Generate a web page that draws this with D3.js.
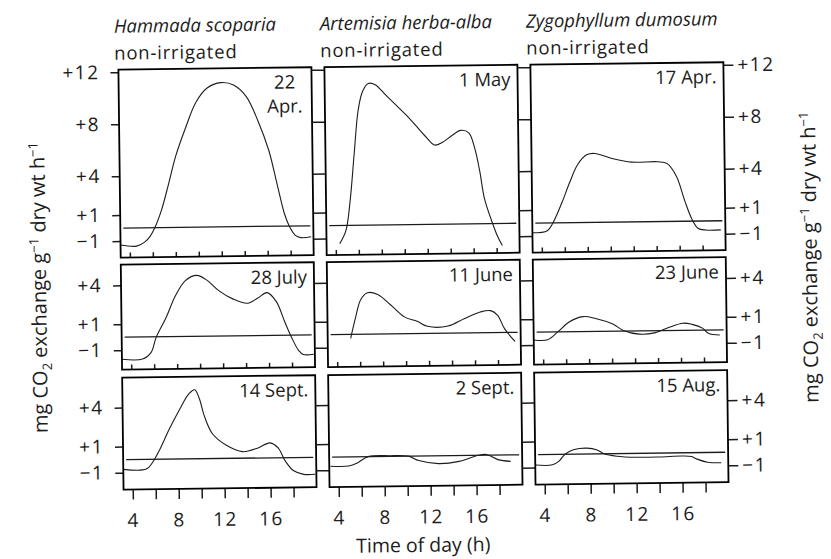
<!DOCTYPE html>
<html>
<head>
<meta charset="utf-8">
<script src="https://cdn.jsdelivr.net/npm/d3@7/dist/d3.min.js"></script>
<style>
  body { margin: 0; background: #fff; }
  svg { display: block; font-family: "Open Sans", Lato, sans-serif; }
</style>
</head>
<body>
<div class="canvas"></div>
<script>
// column headings
const species = ['Hammada scoparia', 'Artemisia herba-alba', 'Zygophyllum dumosum'];
const treatment = 'non-irrigated';

// date labels, one row of panels per line
const dates = [
  [['22', 'Apr.'], ['1 May'], ['17 Apr.']],
  [['28 July'], ['11 June'], ['23 June']],
  [['14 Sept.'], ['2 Sept.'], ['15 Aug.']]
];

// y ticks per row, x ticks shared
const rowTicks = [[12, 8, 4, 1, -1], [4, 1, -1], [4, 1, -1]];
const hourTicks = [4, 6, 8, 10, 12, 14, 16, 18];
const hourLabels = [4, 8, 12, 16];

// CO2 exchange curves, [hour, mg CO2 g-1 dry wt h-1]
const hammada22Apr = [[3.2,-1.3],[4.6,-1.4],[5.3,-1.1],[5.75,-0.7],[6.2,0],[6.8,1.35],[7.4,3.2],[8.1,5.5],
  [9.0,7.7],[9.9,9.6],[10.9,10.7],[12.1,11.1],[13.2,10.9],[14.3,10.0],[15.3,8.1],[16.2,5.85],[16.9,3.2],
  [17.5,0.95],[17.9,0],[18.4,-0.7],[18.9,-0.9],[19.8,-0.85]];
const artemisia1May = [[4.35,-1.4],[4.9,-0.4],[5.3,1.9],[5.7,5.5],[6.1,8.9],[6.5,10.3],[7.0,10.9],[7.6,10.8],
  [8.5,10.0],[9.4,9.2],[10.3,8.4],[11.1,7.6],[12.0,6.7],[12.7,6.1],[13.4,6.3],[14.2,6.8],[15.0,7.2],[15.7,7.0],
  [16.2,5.8],[16.6,4.1],[17.0,1.9],[17.6,0.2],[18.1,-1.0],[18.5,-1.7]];
const zygo17Apr = [[3.2,-0.75],[4.5,-0.6],[5.0,0.0],[5.8,1.55],[6.5,3.1],[7.2,4.45],[8.0,5.2],[8.7,5.3],
  [10.2,4.9],[11.9,4.6],[14.2,4.6],[15.0,4.45],[15.8,3.45],[16.5,1.55],[17.1,0.15],[17.6,-0.55],[18.3,-0.7],[19.6,-0.7]];
const hammada28July = [[3.2,-1.7],[5.0,-1.7],[5.75,-1.2],[6.2,-0.05],[7.1,1.5],[7.9,3.1],[8.8,4.3],[9.8,4.7],
  [10.7,4.3],[11.7,3.5],[12.9,2.85],[14.2,2.5],[15.1,2.9],[15.9,3.3],[16.7,2.6],[17.4,1.05],[18.0,-0.2],
  [18.6,-1.2],[19.0,-1.5],[19.9,-1.5]];
const artemisia11June = [[5.2,-0.3],[5.65,1.3],[6.1,2.65],[6.7,3.2],[7.6,3.05],[8.7,2.25],[9.9,1.3],[11.0,0.95],
  [11.9,0.55],[13.7,0.55],[15.1,1.1],[16.5,1.6],[17.4,1.7],[18.0,1.35],[18.6,0.3],[19.5,-0.7]];
const zygo23June = [[3.2,-0.6],[4.4,-0.6],[5.3,0.0],[6.3,0.75],[7.5,1.15],[8.6,1.0],[10.1,0.55],[11.0,0.05],
  [12.4,-0.25],[13.8,-0.15],[15.0,0.25],[16.2,0.55],[17.0,0.45],[17.9,0.15],[18.4,-0.25],[19.4,-0.4]];
const hammada14Sept = [[3.2,-0.75],[5.2,-0.75],[5.75,-0.25],[6.4,0.75],[7.25,2.3],[8.1,3.7],[9.0,5.0],[9.5,5.3],
  [9.9,4.6],[10.3,3.3],[11.0,1.9],[12.2,1.0],[13.6,0.5],[14.9,0.75],[16.0,1.15],[16.7,0.75],[17.3,-0.25],
  [18.0,-1.0],[18.9,-1.3],[19.9,-1.3]];
const artemisia2Sept = [[3.3,-0.7],[4.9,-0.7],[5.6,-0.5],[6.6,0.0],[8.5,0.05],[10.1,0.0],[11.0,-0.35],[12.7,-0.6],
  [14.5,-0.45],[16.2,0.0],[16.9,0.05],[17.9,-0.35],[19.0,-0.5]];
const zygo15Aug = [[3.2,-0.8],[4.7,-0.8],[5.3,-0.5],[5.8,0.0],[6.6,0.35],[7.7,0.45],[8.6,0.3],[9.2,0.0],[10.3,-0.2],
  [12,-0.3],[14,-0.3],[16,-0.25],[16.8,-0.3],[17.3,-0.5],[18.2,-0.75],[19.4,-0.8]];

const curves = [
  [hammada22Apr, artemisia1May, zygo17Apr],
  [hammada28July, artemisia11June, zygo23June],
  [hammada14Sept, artemisia2Sept, zygo15Aug]
];

//1. dimensions
const width = 831, height = 559;
const colX = [121, 327, 533], colW = 193;
const rowY = [66, 261, 374], rowH = [188, 105, 112];
const rowDomain = [[-2.27, 12.2], [-2.5, 5.6], [-2.3, 6.3]];
const ink = '#1c1c1c';

const svg = d3.select('.canvas').append('svg')
    .attr('width', width)
    .attr('height', height);

// the scanned page sits a little askew
const page = svg.append('g').attr('transform', 'rotate(-0.7, 415, 280)');

const x = d3.scaleLinear().domain([3.2, 20.0]).range([0, colW]);
const signed = v => v > 0 ? '+' + v : '\u2212' + Math.abs(v);

//2. panels
rowY.forEach((top, r) => {
    const y = d3.scaleLinear().domain(rowDomain[r]).range([rowH[r], 0]);
    const line = d3.line()
        .x(d => x(d[0]))
        .y(d => y(d[1]))
        .curve(d3.curveCatmullRom.alpha(0.5));

    colX.forEach((left, c) => {
        const g = page.append('g').attr('transform', `translate(${left},${top})`);

        // y ticks: labelled on the outer columns, plain ticks across the gaps
        const yAxis = c === 0
            ? d3.axisLeft(y).tickValues(rowTicks[r]).tickFormat(signed).tickSize(8).tickPadding(11)
            : d3.axisLeft(y).tickValues(rowTicks[r]).tickFormat('').tickSize(13);
        g.append('g').call(yAxis);
        if (c === 2) {
            g.append('g').attr('transform', `translate(${colW},0)`)
                .call(d3.axisRight(y).tickValues(rowTicks[r]).tickFormat(signed).tickSize(10).tickPadding(4));
        }

        // x ticks: outward with labels on the last row, inward otherwise
        const xAxis = r === 2
            ? d3.axisBottom(x).tickValues(hourTicks).tickSize(10).tickPadding(14)
                .tickFormat(d => hourLabels.includes(d) ? d : '')
            : d3.axisBottom(x).tickValues(hourTicks).tickSize(-5).tickFormat('');
        g.append('g').attr('transform', `translate(0,${rowH[r]})`).call(xAxis);

        // zero line
        g.append('line')
            .attr('x1', 3).attr('x2', colW - 3)
            .attr('y1', y(0)).attr('y2', y(0))
            .attr('stroke', ink).attr('stroke-width', 1.3);

        g.append('path')
            .datum(curves[r][c])
            .attr('d', line)
            .attr('fill', 'none')
            .attr('stroke', ink)
            .attr('stroke-width', 1.1);

        g.append('rect')
            .attr('width', colW).attr('height', rowH[r])
            .attr('fill', 'none')
            .attr('stroke', '#000').attr('stroke-width', 1.8);

        // date label, top right
        const lab = g.append('text')
            .attr('font-size', 18.5).attr('fill', ink)
            .attr('text-anchor', dates[r][c].length > 1 ? 'middle' : 'end');
        const lx = dates[r][c].length > 1 ? colW - 27 : colW - 7;
        dates[r][c].forEach((t, i) => {
            lab.append('tspan').attr('x', lx).attr('y', 21 + i * 24).text(t);
        });
    });
});

// style the axis pieces like the print
page.selectAll('.domain').remove();
page.selectAll('.tick line').attr('stroke', ink).attr('stroke-width', 1.5);
page.selectAll('.tick text').attr('font-size', 19).attr('fill', ink)
    .attr('font-family', '"Open Sans", sans-serif').attr('letter-spacing', 1.5);

//3. headings
species.forEach((s, c) => {
    const t = page.append('text').attr('font-size', 18.5).attr('fill', ink);
    t.append('tspan').attr('x', colX[c] - 4).attr('y', 29).attr('font-style', 'italic').text(s);
    t.append('tspan').attr('x', colX[c] - 4).attr('y', 56).attr('letter-spacing', 0.8).text(treatment);
});

// axis titles
const yTitle = (sel) => {
    sel.append('tspan').text('mg CO');
    sel.append('tspan').attr('font-size', 13).attr('dy', 5).text('2');
    sel.append('tspan').attr('dy', -5).text(' exchange g');
    sel.append('tspan').attr('font-size', 13).attr('dy', -7).text('\u22121');
    sel.append('tspan').attr('dy', 7).text(' dry wt h');
    sel.append('tspan').attr('font-size', 13).attr('dy', -7).text('\u22121');
};
page.append('text')
    .attr('transform', 'translate(46,283) rotate(-90)')
    .attr('text-anchor', 'middle').attr('font-size', 20).attr('fill', ink)
    .call(yTitle);
page.append('text')
    .attr('transform', 'translate(817,262) rotate(-90)')
    .attr('text-anchor', 'middle').attr('font-size', 20).attr('fill', ink)
    .call(yTitle);

page.append('text')
    .attr('x', 420).attr('y', 552)
    .attr('text-anchor', 'middle').attr('font-size', 19.5).attr('fill', ink)
    .text('Time of day (h)');
</script>
</body>
</html>
